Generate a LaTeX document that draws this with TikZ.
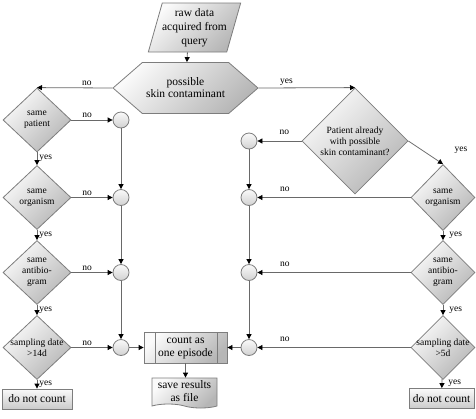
\documentclass[tikz,border=0pt]{standalone}
\usepackage{fontspec}
\setmainfont{Liberation Serif}
\usepackage{tikz}
\usetikzlibrary{shapes.geometric, shapes.symbols, arrows.meta}
\definecolor{outline}{RGB}{125, 125, 125}
\definecolor{wire}{RGB}{105, 105, 105}
\definecolor{shadelight}{RGB}{250, 250, 250}
\definecolor{shadedark}{RGB}{182, 182, 182}
\tikzstyle{shaded} = [draw=outline, line width=0.8pt, top color=shadelight, bottom color=shadedark, shading angle=45]
\tikzstyle{io} = [trapezium, trapezium left angle=70, trapezium right angle=110, trapezium stretches=true, minimum width=93pt, minimum height=49pt, inner sep=0pt, shaded, align=center, font=\fontsize{11.5}{14}\selectfont]
\tikzstyle{hexcheck} = [signal, signal to=west and east, signal pointer angle=82, minimum width=145pt, minimum height=51pt, inner sep=0pt, shaded, align=center, font=\fontsize{11.5}{12}\selectfont]
\tikzstyle{decision} = [diamond, minimum width=68pt, minimum height=64pt, inner sep=0pt, shaded]
\tikzstyle{dtext} = [align=center, font=\fontsize{9.5}{11}\selectfont, inner sep=0pt]
\tikzstyle{junction} = [circle, minimum size=16pt, inner sep=0pt, shaded, bottom color=shadedark!60!shadelight]
\tikzstyle{terminal} = [rectangle, minimum width=70pt, minimum height=20pt, inner sep=0pt, shaded, bottom color=shadedark!70!shadelight, font=\fontsize{11.5}{12}\selectfont]
\tikzstyle{process} = [rectangle, minimum width=83pt, minimum height=31pt, inner sep=0pt, shaded, align=center, font=\fontsize{11.5}{13}\selectfont,
    path picture={\draw[outline, line width=0.8pt] ([xshift=11pt]path picture bounding box.north west) -- ([xshift=11pt]path picture bounding box.south west)
                  ([xshift=-10pt]path picture bounding box.north east) -- ([xshift=-10pt]path picture bounding box.south east);}]
\tikzstyle{docfile} = [tape, tape bend top=none, tape bend bottom=out and in, tape bend height=4pt, minimum width=65pt, minimum height=30pt, inner sep=0pt, shaded, align=center, font=\fontsize{11.5}{13}\selectfont]
\tikzstyle{lbl} = [font=\fontsize{9.5}{11}\selectfont, inner sep=2pt]
\tikzstyle{arrow} = [draw=wire, line width=0.8pt, -{Triangle[length=5pt, width=5pt, color=black]}]

\begin{document}
\begin{tikzpicture}[x=1pt, y=-1pt]
    \useasboundingbox (0,0) rectangle (476,418);

    % Input and first check
    \node[io] (raw) at (194.5, 27.5) {raw data\\acquired from\\query};
    \node[hexcheck] (skin) at (185.5, 88) {possible\\skin contaminant};

    % Left branch
    \node[decision, label={[dtext]center:{same\\patient}}] (pat) at (37, 120) {};
    \node[decision, label={[dtext]center:{same\\organism}}] (org1) at (37, 197.5) {};
    \node[decision, label={[dtext]center:{same\\antibio-\\gram}}] (abg1) at (37, 272.5) {};
    \node[decision, label={[dtext]center:{sampling date\\>14d}}] (smp1) at (37, 347.5) {};
    \node[terminal] (skip1) at (37, 399) {do not count};

    \node[junction] (c1) at (121, 120) {};
    \node[junction] (c2) at (121, 197.5) {};
    \node[junction] (c3) at (121, 272.5) {};
    \node[junction] (c4) at (121, 347.5) {};

    % Right branch
    \node[decision, minimum width=106pt, minimum height=106pt, label={[dtext]center:{Patient already\\with possible\\skin contaminant?}}] (pac) at (355, 141) {};
    \node[decision, minimum width=64pt, minimum height=66pt, label={[dtext]center:{same\\organism}}] (org2) at (443, 197.5) {};
    \node[decision, minimum width=64pt, minimum height=64pt, label={[dtext]center:{same\\antibio-\\gram}}] (abg2) at (443, 272.5) {};
    \node[decision, minimum width=64pt, minimum height=64pt, label={[dtext]center:{sampling date\\>5d}}] (smp2) at (443, 347.5) {};
    \node[terminal, minimum width=65pt] (skip2) at (441.5, 398.5) {do not count};

    \node[junction] (d1) at (249, 141) {};
    \node[junction] (d2) at (249, 197.5) {};
    \node[junction] (d3) at (249, 272.5) {};
    \node[junction] (d4) at (249, 347.5) {};

    % Episode and output
    \node[process] (count) at (185.5, 347.5) {count as\\one episode};
    \node[docfile] (save) at (184.5, 391) {save results\\as file};

    % Arrows
    \draw[arrow] (raw.bottom side) -- (skin);
    \draw[arrow] (skin.west) -- node[lbl, pos=0.34, above] {no} (pat.north);
    \draw[arrow] (skin.east) -- node[lbl, pos=0.29, above] {yes} (pac.north);

    \draw[arrow] (pat) -- node[lbl, pos=0.38, above] {no} (c1);
    \draw[arrow] (org1) -- node[lbl, pos=0.38, above] {no} (c2);
    \draw[arrow] (abg1) -- node[lbl, pos=0.38, above] {no} (c3);
    \draw[arrow] (smp1) -- node[lbl, pos=0.38, above] {no} (c4);
    \draw[arrow] (pat) -- node[lbl, midway, right] {yes} (org1);
    \draw[arrow] (org1) -- node[lbl, midway, right] {yes} (abg1);
    \draw[arrow] (abg1) -- node[lbl, midway, right] {yes} (smp1);
    \draw[arrow] (smp1) -- node[lbl, midway, right] {yes} (skip1);
    \draw[arrow] (c1) -- (c2);
    \draw[arrow] (c2) -- (c3);
    \draw[arrow] (c3) -- (c4);

    \draw[arrow] (pac.west) -- node[lbl, pos=0.39, above=4pt] {no} (d1);
    \draw[arrow] (org2) -- node[lbl, pos=0.82, above=4pt] {no} (d2);
    \draw[arrow] (abg2) -- node[lbl, pos=0.82, above=4pt] {no} (d3);
    \draw[arrow] (smp2) -- node[lbl, pos=0.82, above=4pt] {no} (d4);
    \draw[arrow] (pac.east) -- node[lbl, pos=0.4, right=30pt] {yes} (org2.north);
    \draw[arrow] (org2) -- node[lbl, midway, right=4pt] {yes} (abg2);
    \draw[arrow] (abg2) -- node[lbl, midway, right=4pt] {yes} (smp2);
    \draw[arrow] (smp2) -- node[lbl, midway, right=4pt] {yes} (skip2);
    \draw[arrow] (d1) -- (d2);
    \draw[arrow] (d2) -- (d3);
    \draw[arrow] (d3) -- (d4);

    \draw[arrow] (c4) -- (count);
    \draw[arrow] (d4) -- (count);
    \draw[arrow] (count.south) -- (count.south |- save.north);
\end{tikzpicture}
\end{document}
